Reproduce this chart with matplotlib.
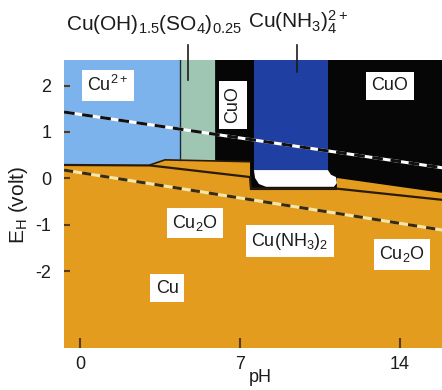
import matplotlib
matplotlib.use("Agg")
import matplotlib.pyplot as plt
from matplotlib.patches import Polygon

plt.rcParams['font.family'] = ['Liberation Sans', 'DejaVu Sans']
plt.rcParams['mathtext.fontset'] = 'custom'
plt.rcParams['mathtext.rm'] = 'Liberation Sans'
plt.rcParams['mathtext.it'] = 'Liberation Sans:italic'
plt.rcParams['mathtext.bf'] = 'Liberation Sans:bold'

# axis range (pH, E in volt)
ph_min, ph_max = -0.70, 15.84
e_min, e_max = -3.65, 2.55
ph_ticks = [0, 7, 14]
e_ticks = [2, 1, 0, -1, -2]

# stability regions (pH, E)
cu2_ph = [-0.70, 4.38, 4.38, 3.72, 3.06, -0.70]
cu2_e = [2.55, 2.55, 0.39, 0.40, 0.29, 0.29]

sulf_ph = [4.38, 5.91, 5.91, 4.38]
sulf_e = [2.55, 2.55, 0.38, 0.39]

cuo_ph = [5.91, 15.84, 15.84, 11.24, 11.24, 7.44, 7.44, 5.91]
cuo_e = [2.55, 2.55, -0.31, 0.01, -0.25, -0.25, 0.36, 0.38]

amm4_ph = [7.61, 10.85, 10.85, 7.61]
amm4_e = [2.55, 2.55, 0.18, 0.18]

amm2_ph = [7.61, 10.85, 10.98, 11.20, 11.24, 11.11, 8.14, 7.83, 7.66]
amm2_e = [0.18, 0.18, 0.08, 0.03, -0.10, -0.18, -0.18, -0.12, 0.01]

# boundary lines
cu_line_ph = [-0.70, 3.06, 7.44, 7.48, 11.24, 15.84]
cu_line_e = [0.29, 0.28, 0.03, -0.22, -0.22, -0.46]
top_line_ph = [3.06, 3.72, 7.44]
top_line_e = [0.29, 0.40, 0.36]

# water stability lines
o2_ph = [-0.70, 15.84]
o2_e = [1.43, 0.23]
h2_ph = [-0.70, 15.84]
h2_e = [0.18, -1.11]

# labels in boxes
box_labels = ['Cu$^{2+}$', 'CuO', 'CuO', 'Cu$_2$O', 'Cu(NH$_3$)$_2$', 'Cu$_2$O', 'Cu']
box_ph = [1.22, 6.69, 13.56, 5.03, 9.19, 14.09, 3.81]
box_e = [2.01, 1.58, 1.99, -0.96, -1.35, -1.63, -2.36]
box_rot = [0, 90, 0, 0, 0, 0, 0]

fig = plt.figure(figsize=(4.42, 3.9), dpi=100)
ax = fig.add_axes([0.1448, 0.1077, 0.8552, 0.7385])
ax.set_facecolor('#e39c1d')
ax.set_xlim(ph_min, ph_max)
ax.set_ylim(e_min, e_max)

def region(xs, ys, color):
    ax.add_patch(Polygon(list(zip(xs, ys)), closed=True, fc=color, ec='none'))

region(cuo_ph, cuo_e, '#060606')
region(cu2_ph, cu2_e, '#7db3ec')
region(sulf_ph, sulf_e, '#9fc6b3')
region(amm4_ph, amm4_e, '#203fa2')
region(amm2_ph, amm2_e, '#ffffff')

dark = '#2a1a08'
ax.plot(cu_line_ph, cu_line_e, color=dark, lw=1.6)
ax.plot(top_line_ph, top_line_e, color=dark, lw=1.2)
ax.plot([4.38, 4.38], [0.39, 2.55], color='#1a2a3a', lw=1.0)

ax.plot(o2_ph, o2_e, color='white', lw=2.2)
ax.plot(o2_ph, o2_e, color='#101010', lw=2.2, dashes=(3.5, 2.5))
ax.plot(h2_ph, h2_e, color='#f6e6a8', lw=2.2)
ax.plot(h2_ph, h2_e, color='#3a2a10', lw=2.2, dashes=(3.0, 3.0))

for s, x, y, r in zip(box_labels, box_ph, box_e, box_rot):
    ax.text(x, y, s, ha='center', va='center', rotation=r, fontsize=13,
            color='#1c1c1c',
            bbox=dict(boxstyle='square,pad=0.3', fc='white', ec='none'))

# pointer lines to the labels above the plot
ax.plot([4.72, 4.72], [2.12, 2.87], color='#1c1c1c', lw=1.2, clip_on=False)
ax.plot([9.49, 9.49], [2.30, 2.88], color='#1c1c1c', lw=1.2, clip_on=False)
fig.text(154 / 442, 1 - 24 / 390, r'Cu(OH)$_{1.5}$(SO$_4$)$_{0.25}$',
         ha='center', va='center', fontsize=15, color='#1c1c1c')
fig.text(298 / 442, 1 - 22 / 390, r'Cu(NH$_3$)$_4^{2+}$',
         ha='center', va='center', fontsize=15, color='#1c1c1c')

for sp in ax.spines.values():
    sp.set_visible(False)
ax.set_xticks(ph_ticks)
ax.set_yticks(e_ticks)
ax.set_xticklabels([str(v) for v in ph_ticks])
ax.set_yticklabels([str(v) for v in e_ticks])
ax.tick_params(axis='x', direction='in', length=7, width=1.5, color='#5a3a10',
               labelsize=13, pad=6, labelcolor='#1c1c1c')
ax.tick_params(axis='y', direction='in', length=4, width=1.5, color='#5a3a10',
               labelsize=13, pad=9, labelcolor='#1c1c1c')

fig.text(260 / 442, 1 - 378 / 390, 'pH', ha='center', va='center',
         fontsize=13, color='#1c1c1c')
fig.text(18 / 442, 1 - 205 / 390, r'E$_\mathrm{H}$ (volt)', ha='center',
         va='center', rotation=90, fontsize=15, color='#1c1c1c')

fig.savefig('out.png', dpi=100)
